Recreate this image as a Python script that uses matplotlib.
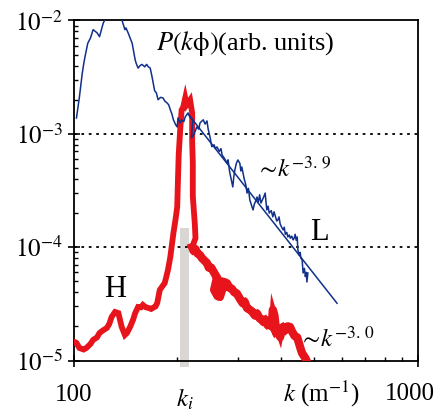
import numpy as np
import matplotlib
matplotlib.use("Agg")
import matplotlib.pyplot as plt

plt.rcParams["font.family"] = ["Liberation Serif", "DejaVu Serif"]
plt.rcParams["mathtext.fontset"] = "stix"

# ==========================================
# Data
# ==========================================

# L : thin blue spectrum
l_k = [102, 104, 106, 107, 108, 110, 112, 113, 114, 117, 119, 122, 125, 131, 137, 141, 142, 144,
       146, 148, 151, 152, 154, 156, 158, 161, 163, 165, 167, 169, 172, 174, 176, 179, 182, 184, 187,
       189, 191, 193, 195, 198, 200, 201, 204, 206, 209, 211, 215, 218, 222, 221, 220, 224, 228,
       231, 233, 238, 241, 244, 246, 249, 252, 256, 258, 261, 265, 268, 270, 274, 279, 281, 284, 290,
       292, 294, 297, 300, 304, 306, 308, 313, 316, 319, 322, 325, 332, 335, 337, 341, 344, 347,
       350, 353, 357, 360, 362, 364, 367, 370, 375, 379, 382, 385, 389, 392, 395, 398, 402, 406,
       409, 412, 416, 419, 423, 426, 430, 434, 437, 440, 443, 446, 448, 452, 455, 457, 461, 464,
       468, 471, 474, 476, 479]
l_p = [1.38e-3, 2.1e-3, 3.4e-3, 4.1e-3, 4.8e-3, 6.3e-3, 7.0e-3, 7.6e-3, 8.3e-3, 7.8e-3, 7.2e-3, 9.5e-3,
       1.1e-2, 1.3e-2, 1.1e-2, 8.3e-3, 8.6e-3, 7.8e-3,
       7.0e-3, 6.3e-3, 4.5e-3, 4.2e-3, 3.8e-3, 4.0e-3, 4.1e-3, 3.9e-3, 4.1e-3, 3.9e-3, 3.8e-3, 3.2e-3,
       2.4e-3, 2.3e-3, 2.0e-3, 2.1e-3, 2.07e-3, 1.95e-3, 1.87e-3,
       1.8e-3, 1.63e-3, 1.5e-3, 1.33e-3, 1.2e-3, 1.15e-3, 1.38e-3, 1.25e-3, 1.33e-3, 1.28e-3, 1.41e-3,
       1.53e-3, 1.4e-3, 1.33e-3, 1.1e-3, 9.2e-4, 1.0e-3, 1.15e-3,
       1.1e-3, 1.25e-3, 1.33e-3, 1.22e-3, 1.3e-3, 1.1e-3, 9.4e-4, 7.7e-4, 8.0e-4, 7.4e-4, 7.66e-4,
       7.0e-4, 7.4e-4, 6.5e-4, 6.1e-4, 5.54e-4, 5.9e-4, 4.6e-4, 3.4e-4,
       4.2e-4, 4.8e-4, 5.5e-4, 5.88e-4, 5.5e-4, 4.7e-4, 5.1e-4, 4.0e-4, 3.6e-4, 3.0e-4, 3.3e-4,
       2.6e-4, 2.13e-4, 2.4e-4, 2.5e-4, 2.77e-4, 2.5e-4, 2.9e-4,
       2.45e-4, 2.6e-4, 2.8e-4, 3.0e-4, 2.5e-4, 2.13e-4, 2.3e-4, 2.0e-4, 2.1e-4, 1.85e-4, 2.05e-4,
       1.9e-4, 1.7e-4, 1.74e-4, 1.85e-4, 1.6e-4, 1.5e-4, 1.42e-4,
       1.5e-4, 1.3e-4, 1.35e-4, 1.23e-4, 1.28e-4, 1.2e-4, 1.25e-4, 1.16e-4, 1.2e-4, 1.3e-4, 1.15e-4,
       1.23e-4, 9.45e-5, 8.5e-5, 9.0e-5, 8.0e-5, 7.71e-5, 5.92e-5,
       6.5e-5, 5.5e-5, 6.0e-5, 4.93e-5, 5.92e-5]

# ~k^-3.9 fit line end points
fit_k = [215, 582]
fit_p = [1.5e-3, 3.2e-5]

# H : thick red spectrum
h_k = [101, 102, 104, 107, 109, 112, 114, 117, 119, 122, 125, 127, 129, 132, 135,
       138, 141, 143, 146, 149, 151, 154, 157, 159, 162, 165, 168, 170, 173, 175,
       178, 181, 184, 186, 188, 191, 195, 198, 200, 201, 202, 204, 206, 208, 211,
       213, 215, 218, 221, 221, 222, 222, 225, 226, 221,
       223, 226, 229, 233, 236, 240, 244, 247, 251, 254, 258, 261, 256, 262, 266,
       270, 272, 268, 275, 279, 283, 288, 293, 298, 304, 310, 314, 319, 325, 330,
       336, 341, 347, 352, 355, 360, 366, 372, 376, 379, 383, 388, 393, 398, 402,
       406, 412, 418, 425, 431, 438, 446, 452, 457, 461, 466, 471, 478]
h_p = [1.45e-5, 1.43e-5, 1.29e-5, 1.25e-5, 1.29e-5, 1.4e-5, 1.52e-5, 1.6e-5, 1.75e-5, 1.85e-5,
       1.94e-5, 2.1e-5, 2.42e-5, 2.68e-5, 2.62e-5, 1.98e-5, 1.68e-5, 1.75e-5, 1.98e-5, 2.3e-5,
       2.62e-5, 2.97e-5, 2.95e-5, 3.09e-5, 2.95e-5, 2.91e-5, 2.85e-5, 2.91e-5, 3.0e-5, 3.22e-5,
       4.19e-5, 4.5e-5, 4.83e-5, 5.5e-5, 6.29e-5, 8.2e-5, 1.33e-4, 1.8e-4, 2.26e-4, 3.92e-4,
       6.5e-4, 1.08e-3, 1.63e-3, 1.7e-3, 2.07e-3, 1.8e-3, 1.87e-3, 1.99e-3, 1.53e-3, 8.8e-4,
       5.5e-4, 2.8e-4, 1.6e-4, 1.2e-4, 1.0e-4,
       9.3e-5, 9.6e-5, 8.8e-5, 8.5e-5, 8.0e-5, 7.6e-5, 7.25e-5, 6.6e-5, 6.6e-5, 6.2e-5,
       5.7e-5, 5.4e-5, 4.2e-5, 3.7e-5, 3.64e-5, 4.2e-5, 4.45e-5, 5.0e-5, 4.9e-5, 4.8e-5,
       4.4e-5, 4.3e-5, 4.0e-5, 3.9e-5, 3.5e-5, 3.2e-5, 3.3e-5, 2.9e-5, 2.8e-5, 2.7e-5,
       2.5e-5, 2.6e-5, 2.35e-5, 2.3e-5, 2.2e-5, 2.3e-5, 2.05e-5, 2.14e-5, 2.0e-5, 2.8e-5,
       2.5e-5, 1.75e-5, 1.8e-5, 1.61e-5, 1.9e-5, 1.98e-5, 1.85e-5, 2.0e-5, 1.98e-5, 1.8e-5,
       1.65e-5, 1.6e-5, 1.4e-5, 1.25e-5, 1.16e-5, 1.1e-5, 1.05e-5, 9.5e-6]
tail_start = 54  # index where the H tail begins

# k_i marker band
ki_band = [204, 217]
ki_top = 1.47e-4

# ==========================================
# Figure
# ==========================================

fig = plt.figure(figsize=(4.43, 4.17), dpi=100)
ax = fig.add_axes([73.5 / 443, 56.5 / 417, 344.5 / 443, 340 / 417])

ax.set_xscale("log")
ax.set_yscale("log")
ax.set_xlim(100, 1000)
ax.set_ylim(1e-5, 1e-2)

# grey k_i band (extends a bit below the axis)
ax.fill_between(ki_band, [8.7e-6, 8.7e-6], [ki_top, ki_top],
                color="#d9d6d4", lw=0, zorder=1, clip_on=False)

# dotted reference lines
for yv in [1e-3, 1e-4]:
    ax.axhline(yv, color="black", lw=1.3, ls=(0, (1.5, 2.6)), zorder=2)

red = "#e8141c"
blue = "#10308a"

ax.plot(h_k, h_p, color=red, lw=4.2, solid_joinstyle="miter", zorder=3)
ax.plot(h_k[tail_start:], h_p[tail_start:], color=red, lw=6.0, zorder=3)

ax.plot(l_k, l_p, color=blue, lw=1.1, zorder=4)
ax.plot(fit_k, fit_p, color=blue, lw=1.1, zorder=4)

# ticks
ax.set_yticks([1e-5, 1e-4, 1e-3, 1e-2])
ax.set_yticklabels([r"$10^{-5}$", r"$10^{-4}$", r"$10^{-3}$", r"$10^{-2}$"], fontsize=18)
ax.set_xticks([100, 1000])
ax.set_xticklabels([])
ax.tick_params(axis="both", which="major", direction="inout", length=9, width=1.2, pad=3)
ax.tick_params(axis="both", which="minor", direction="in", length=3.2, width=1.0)
ax.tick_params(axis="x", which="minor", labelbottom=False)
ax.tick_params(top=False, right=False, which="both")

for s in ax.spines.values():
    s.set_linewidth(1.3)

# x labels as text
tr = ax.get_xaxis_transform()
ax.text(100, -0.102, "100", transform=tr, ha="center", va="center", fontsize=18)
ax.text(948, -0.098, "1000", transform=tr, ha="center", va="center", fontsize=18)
ax.text(523, -0.098, r"$k$ (m$^{-1}$)", transform=tr, ha="center", va="center", fontsize=18)
ax.text(211, -0.115, r"$k_i$", transform=tr, ha="center", va="center", fontsize=18)

# annotations
ax.text(0.24, 0.913, r"$P(k\mathrm{ϕ})$(arb. units)", transform=ax.transAxes,
        ha="left", va="baseline", fontsize=19)
ax.text(338, 4.2e-4, r"$\sim\!k^{-3.\,9}$", ha="left", va="baseline", fontsize=18)
ax.text(452, 1.32e-5, r"$\sim\!k^{-3.\,0}$", ha="left", va="baseline", fontsize=18)
ax.text(486, 1.16e-4, "L", ha="left", va="baseline", fontsize=22)
ax.text(123, 3.64e-5, "H", ha="left", va="baseline", fontsize=22)

fig.savefig("out.png", dpi=100)
